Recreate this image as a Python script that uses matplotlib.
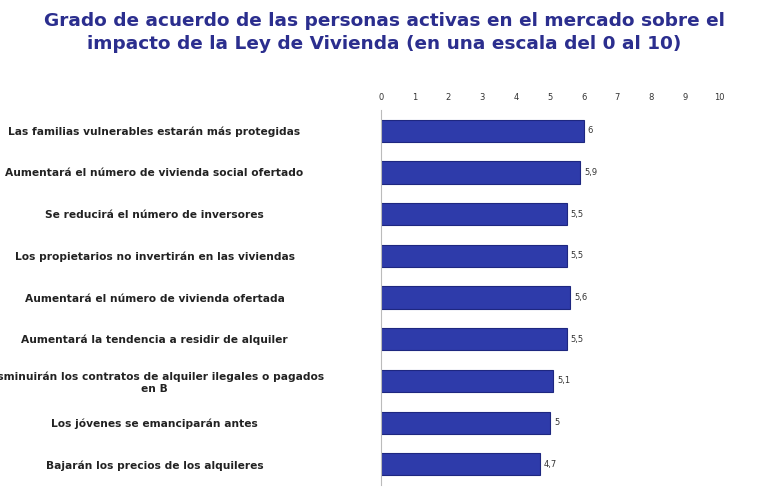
import matplotlib
matplotlib.use("Agg")
import matplotlib.pyplot as plt

categories = [
    "Las familias vulnerables estarán más protegidas",
    "Aumentará el número de vivienda social ofertado",
    "Se reducirá el número de inversores",
    "Los propietarios no invertirán en las viviendas",
    "Aumentará el número de vivienda ofertada",
    "Aumentará la tendencia a residir de alquiler",
    "Disminuirán los contratos de alquiler ilegales o pagados\nen B",
    "Los jóvenes se emanciparán antes",
    "Bajarán los precios de los alquileres",
]
values = [6, 5.9, 5.5, 5.5, 5.6, 5.5, 5.1, 5, 4.7]
value_labels = ["6", "5,9", "5,5", "5,5", "5,6", "5,5", "5,1", "5", "4,7"]
ticks = list(range(0, 11))

fig = plt.figure(figsize=(7.68, 4.93), dpi=100)
ax = fig.add_axes([0.496, 0.016, 0.44, 0.761])
y = list(range(len(categories)))
ax.barh(y, values, height=0.53, color="#2E3BAA", edgecolor="#1E2780", linewidth=0.8)
for yi, v, lab in zip(y, values, value_labels):
    ax.text(v + 0.12, yi, lab, va="center", ha="left", fontsize=6, color="#333333")
ax.set_ylim(len(categories) - 0.5, -0.5)
ax.set_xlim(0, 10)
ax.set_yticks(y)
ax.set_yticklabels(categories, fontsize=7.7, fontweight="bold", color="#222222", ha="center")
ax.tick_params(axis="y", length=0, pad=163)
ax.xaxis.tick_top()
ax.set_xticks(ticks)
ax.set_xticklabels([str(t) for t in ticks], fontsize=6, color="#333333")
ax.tick_params(axis="x", length=0, pad=6)
for s in ["top", "right", "bottom"]:
    ax.spines[s].set_visible(False)
ax.spines["left"].set_color("#BBBBBB")
fig.text(0.5, 0.975, "Grado de acuerdo de las personas activas en el mercado sobre el\nimpacto de la Ley de Vivienda (en una escala del 0 al 10)",
         ha="center", va="top", fontsize=13.3, fontweight="bold", color="#2B2E8E", linespacing=1.3)
fig.savefig("out.png", dpi=100)
